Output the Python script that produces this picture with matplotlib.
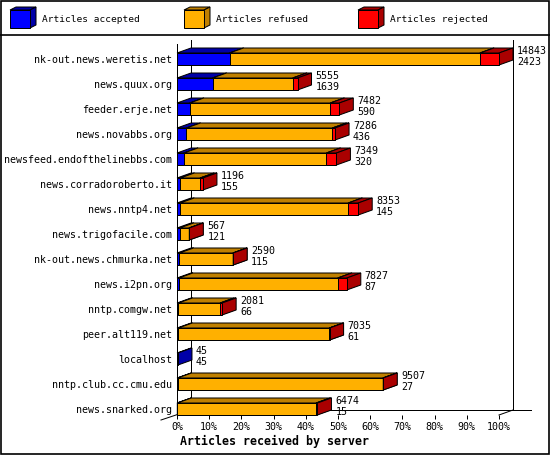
import matplotlib
matplotlib.use('Agg')
import numpy as np
import matplotlib.pyplot as plt
from matplotlib.patches import Polygon, Rectangle

plt.rcParams['font.family'] = ['DejaVu Sans Mono']

hosts = ['nk-out.news.weretis.net', 'news.quux.org', 'feeder.erje.net',
         'news.novabbs.org', 'newsfeed.endofthelinebbs.com',
         'news.corradoroberto.it', 'news.nntp4.net', 'news.trigofacile.com',
         'nk-out.news.chmurka.net', 'news.i2pn.org', 'nntp.comgw.net',
         'peer.alt119.net', 'localhost', 'nntp.club.cc.cmu.edu',
         'news.snarked.org']
accepted = [2423, 1639, 590, 436, 320, 155, 145, 121, 115, 87, 66, 61, 45, 27, 15]
refused = [11544, 3699, 6477, 6730, 6569, 911, 7748, 434, 2465, 7325, 1925,
           6964, 0, 9465, 6399]
rejected = [876, 217, 415, 120, 460, 130, 460, 12, 10, 415, 90, 10, 0, 15, 60]

series_names = ['Articles accepted', 'Articles refused', 'Articles rejected']
front_colors = ['#0000ff', '#ffb000', '#ff0000']
side_colors = ['#0000a8', '#c08000', '#aa0000']
tick_labels = ['0%', '10%', '20%', '30%', '40%', '50%', '60%', '70%', '80%',
               '90%', '100%']

W, H = 550, 455
# plot geometry in pixels
X0, X1 = 177, 499
Y_TOP, Y_FLOOR = 46.5, 415
DEPTH_X, DEPTH_Y = 14, 5
BAR_H = 12
LW = 0.72


def bar3d(ax, left, width, row, front, side, hh, dx, dy):
    top = row - hh
    bot = row + hh
    kw = dict(edgecolor='black', lw=LW, clip_on=False, zorder=3,
              joinstyle='miter')
    ax.add_patch(Polygon([(left, top), (left + dx, top - dy),
                          (left + width + dx, top - dy), (left + width, top)],
                         closed=True, facecolor=side, **kw))
    ax.add_patch(Polygon([(left + width, top), (left + width + dx, top - dy),
                          (left + width + dx, bot - dy), (left + width, bot)],
                         closed=True, facecolor=side, **kw))
    ax.add_patch(Rectangle((left, top), width, 2 * hh, facecolor=front, **kw))


def main():
    fig = plt.figure(figsize=(W / 100, H / 100), dpi=100)

    # frame, header and legend in pixel space
    bg = fig.add_axes([0, 0, 1, 1])
    bg.set_xlim(0, W)
    bg.set_ylim(H, 0)
    bg.axis('off')
    bg.add_patch(Rectangle((0.5, 0.5), W - 1.5, H - 1.5, fill=False,
                           edgecolor='black', lw=1.2))
    bg.plot([0, W], [35, 35], color='black', lw=1.2)
    for i, name in enumerate(series_names):
        x = 10 + 174 * i
        bg.add_patch(Polygon([(x, 10), (x + 6, 7), (x + 26, 7), (x + 20, 10)],
                             closed=True, facecolor=side_colors[i],
                             edgecolor='black', lw=LW))
        bg.add_patch(Polygon([(x + 20, 10), (x + 26, 7), (x + 26, 25), (x + 20, 28)],
                             closed=True, facecolor=side_colors[i],
                             edgecolor='black', lw=LW))
        bg.add_patch(Rectangle((x, 10), 20, 18, facecolor=front_colors[i],
                               edgecolor='black', lw=LW))
        bg.text(x + 32, 20, name, fontsize=6.8, va='center', ha='left')

    n = len(hosts)
    totals = [a + r + j for a, r, j in zip(accepted, refused, rejected)]
    xmax = max(totals)
    hh_rows = BAR_H / 2 / 25
    ax = fig.add_axes([X0 / W, 1 - Y_FLOOR / H, (X1 - X0) / W,
                       (Y_FLOOR - Y_TOP) / H])
    ax.set_xlim(0, xmax)
    floor_row = n - 1 + hh_rows
    ax.set_ylim(floor_row, -0.5)
    ax.patch.set_alpha(0)
    for s in ax.spines.values():
        s.set_visible(False)

    sx = xmax / (X1 - X0)
    sy = (floor_row + 0.5) / (Y_FLOOR - Y_TOP)
    dx, dy, hh = DEPTH_X * sx, DEPTH_Y * sy, BAR_H / 2 * sy

    # walls and floor
    line = dict(color='black', lw=LW, clip_on=False, zorder=1)
    back_floor = floor_row - dy
    wall_top = -0.5 - (Y_TOP - 40) * sy
    ax.plot([dx, dx], [wall_top, back_floor], **line)
    ax.plot([xmax + dx, xmax + dx], [wall_top, back_floor], **line)
    ax.plot([dx, xmax + dx + 18 * sx], [back_floor, back_floor], **line)
    ax.plot([xmax + dx, xmax], [back_floor, floor_row], **line)
    ax.plot([dx, -16 * sx], [back_floor, floor_row + 5 * sy], **line)
    ax.plot([0, 0], [-0.5 - 2.5 * sy, floor_row + 2 * sy],
            color='black', lw=LW, clip_on=False, zorder=4)

    series = [accepted, refused, rejected]
    for row in range(n):
        left = 0
        for k, vals in enumerate(series):
            v = vals[row]
            if v <= 0:
                continue
            bar3d(ax, left, v, row, front_colors[k], side_colors[k], hh, dx, dy)
            left += v
        tx = totals[row] + 18 * sx
        ax.text(tx, row - 8.6 * sy + 3.7 * sy, str(totals[row]), fontsize=7.2,
                va='baseline', ha='left', zorder=5)
        ax.text(tx, row + 2.4 * sy + 3.7 * sy, str(accepted[row]), fontsize=7.2,
                va='baseline', ha='left', zorder=5)

    ax.set_xticks(np.linspace(0, xmax, len(tick_labels)))
    ax.set_xticklabels(tick_labels)
    ax.tick_params(axis='x', direction='out', length=2.9, width=LW, pad=2,
                   labelsize=7.2)
    ax.set_yticks(range(n))
    ax.set_yticklabels(hosts)
    ax.tick_params(axis='y', length=0, pad=3.4, labelsize=7.2)

    fig.text(274 / W, 1 - 441 / H, 'Articles received by server', fontsize=8.4,
             weight='bold', ha='center', va='center')

    fig.savefig('out.png', dpi=100)
    plt.close(fig)


if __name__ == '__main__':
    main()
